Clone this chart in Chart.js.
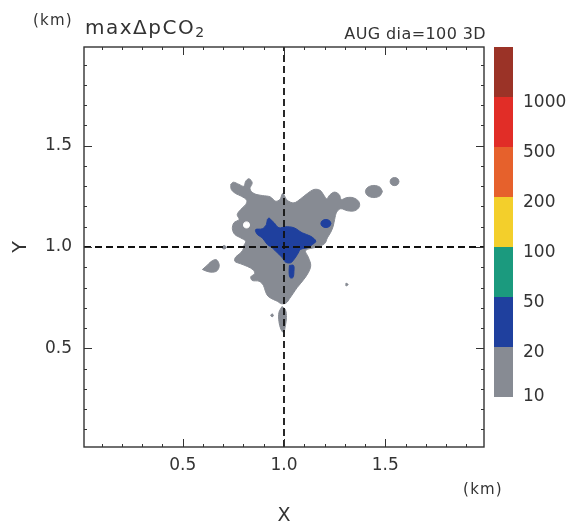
<!DOCTYPE html>
<html>
<head>
<meta charset="utf-8">
<script src="https://cdn.jsdelivr.net/npm/chart.js@4"></script>
<style>
  body { margin: 0; background: #fff; }
</style>
</head>
<body>
<canvas id="contourChart" width="571" height="532"></canvas>
<script>
const axisMin = 0.0125;
const axisMax = 1.9875;
const xTicks = [0.5, 1.0, 1.5];
const yTicks = [0.5, 1.0, 1.5];
const minorTicks = [0.1, 0.2, 0.3, 0.4, 0.5, 0.6, 0.7, 0.8, 0.9, 1.0, 1.1, 1.2, 1.3, 1.4, 1.5, 1.6, 1.7, 1.8, 1.9];
const crossX = 1.0;
const crossY = 1.0;

const levels = [10, 20, 50, 100, 200, 500, 1000];
const levelColors = ['#878b93', '#1f409e', '#1b9a7e', '#f3cf2b', '#e6612c', '#e12d27', '#9b3327'];

// maxΔpCO2 >= 10 (gray band)
const grayMain = [
  [0.737, 1.309], [0.750, 1.320], [0.778, 1.309], [0.802, 1.300], [0.811, 1.325], [0.827, 1.337],
  [0.843, 1.317], [0.832, 1.287], [0.852, 1.264], [0.893, 1.254], [0.931, 1.248], [0.959, 1.226],
  [0.980, 1.235], [0.994, 1.264], [1.016, 1.231], [1.049, 1.218], [1.082, 1.238], [1.115, 1.264],
  [1.148, 1.284], [1.178, 1.280], [1.198, 1.254], [1.211, 1.238], [1.227, 1.258], [1.250, 1.271],
  [1.273, 1.258], [1.283, 1.235], [1.310, 1.244], [1.342, 1.243], [1.369, 1.225], [1.372, 1.199],
  [1.349, 1.179], [1.313, 1.179], [1.280, 1.189], [1.260, 1.172], [1.250, 1.136], [1.243, 1.103],
  [1.231, 1.073], [1.214, 1.045], [1.201, 1.017], [1.163, 1.000], [1.107, 0.983], [1.120, 0.950],
  [1.132, 0.910], [1.120, 0.873], [1.094, 0.835], [1.066, 0.801], [1.044, 0.769], [1.028, 0.746],
  [1.011, 0.724], [0.987, 0.720], [0.967, 0.732], [0.947, 0.741], [0.921, 0.757], [0.908, 0.782],
  [0.898, 0.811], [0.877, 0.831], [0.843, 0.835], [0.836, 0.853], [0.855, 0.868], [0.848, 0.887],
  [0.819, 0.904], [0.786, 0.917], [0.757, 0.930], [0.761, 0.950], [0.786, 0.971], [0.802, 0.996],
  [0.802, 1.007], [0.811, 1.029], [0.786, 1.045], [0.757, 1.062], [0.745, 1.090], [0.753, 1.120],
  [0.778, 1.136], [0.769, 1.160], [0.786, 1.185], [0.811, 1.210], [0.816, 1.231], [0.789, 1.251],
  [0.761, 1.264], [0.740, 1.284]
];
const grayLeft = [[0.597, 0.889], [0.620, 0.909], [0.640, 0.928], [0.663, 0.938], [0.677, 0.923], [0.679, 0.899], [0.664, 0.879], [0.630, 0.877]];
const grayDash = [[0.692, 0.998], [0.704, 1.008], [0.716, 0.998], [0.704, 0.990]];
const grayTail = [[0.990, 0.706], [1.007, 0.691], [1.012, 0.652], [1.007, 0.612], [0.998, 0.578], [0.985, 0.593], [0.975, 0.632], [0.975, 0.677]];
const grayDot = [[0.934, 0.662], [0.941, 0.670], [0.948, 0.662], [0.941, 0.655]];
const grayIsland = [[1.486, 1.274], [1.474, 1.295], [1.444, 1.304], [1.414, 1.295], [1.402, 1.274], [1.414, 1.253], [1.444, 1.244], [1.474, 1.253]];
const grayIslet = [[1.568, 1.323], [1.562, 1.337], [1.546, 1.343], [1.530, 1.337], [1.524, 1.323], [1.530, 1.309], [1.546, 1.303], [1.562, 1.309]];
const grayTri = [[1.306, 0.822], [1.317, 0.815], [1.306, 0.808]];

// below 10 inside the gray band
const holeLow = [[0.830, 1.109], [0.826, 1.120], [0.815, 1.124], [0.804, 1.120], [0.800, 1.109], [0.804, 1.098], [0.815, 1.094], [0.826, 1.098]];

// maxΔpCO2 >= 20 (blue band)
const blueMain = [
  [0.926, 1.144], [0.951, 1.120], [0.975, 1.095], [1.008, 1.100], [1.049, 1.095], [1.090, 1.070],
  [1.132, 1.053], [1.157, 1.029], [1.140, 1.012], [1.115, 0.996], [1.082, 0.988], [1.066, 0.963],
  [1.049, 0.938], [1.033, 0.922], [1.008, 0.925], [0.992, 0.947], [0.967, 0.971], [0.942, 0.996],
  [0.918, 1.012], [0.893, 1.045], [0.868, 1.062], [0.860, 1.086], [0.893, 1.090], [0.913, 1.111],
  [0.918, 1.136]
];
const blueDot = [[1.232, 1.116], [1.225, 1.130], [1.207, 1.136], [1.189, 1.130], [1.182, 1.116], [1.189, 1.102], [1.207, 1.096], [1.225, 1.102]];
const blueStrip = [[1.027, 0.909], [1.047, 0.909], [1.049, 0.879], [1.044, 0.849], [1.030, 0.849], [1.025, 0.879]];

const band10 = [grayMain, grayLeft, grayDash, grayTail, grayDot, grayIsland, grayIslet, grayTri];
const band20 = [blueMain, blueDot, blueStrip];

const textColor = '#333';
const fontFamily = 'DejaVu Sans';

function polygon(points, color, order) {
  const pts = points.map(p => ({ x: p[0], y: p[1] }));
  pts.push({ x: points[0][0], y: points[0][1] });
  return {
    data: pts,
    showLine: true,
    fill: 'shape',
    backgroundColor: color,
    borderColor: color,
    borderWidth: 1,
    pointRadius: 0,
    tension: 0.35,
    order: order
  };
}

function crossLine(points) {
  return {
    data: points,
    showLine: true,
    fill: false,
    borderColor: '#111',
    borderWidth: 1.8,
    borderDash: [7, 4],
    pointRadius: 0,
    order: 0
  };
}

const datasets = [];
band10.forEach(p => datasets.push(polygon(p, levelColors[0], 3)));
datasets.push(polygon(holeLow, '#ffffff', 2));
band20.forEach(p => datasets.push(polygon(p, levelColors[1], 1)));
datasets.push(crossLine([{ x: crossX, y: axisMin }, { x: crossX, y: axisMax }]));
datasets.push(crossLine([{ x: axisMin, y: crossY }, { x: axisMax, y: crossY }]));

// frame with inward ticks, titles and colour bar
const decorPlugin = {
  id: 'decor',
  afterDatasetsDraw(chart) {
    const { ctx, chartArea: a, scales: { x, y } } = chart;
    ctx.save();
    ctx.strokeStyle = '#333';
    ctx.lineWidth = 1;
    minorTicks.forEach(v => {
      const len = xTicks.includes(v) ? 8 : 3;
      const px = Math.round(x.getPixelForValue(v)) + 0.5;
      const py = Math.round(y.getPixelForValue(v)) + 0.5;
      ctx.beginPath();
      ctx.moveTo(px, a.bottom); ctx.lineTo(px, a.bottom - len);
      ctx.moveTo(px, a.top); ctx.lineTo(px, a.top + len);
      ctx.moveTo(a.left, py); ctx.lineTo(a.left + len, py);
      ctx.moveTo(a.right, py); ctx.lineTo(a.right - len, py);
      ctx.stroke();
    });
    ctx.lineWidth = 1.4;
    ctx.strokeRect(a.left, a.top, a.right - a.left, a.bottom - a.top);
    ctx.restore();
  },
  afterDraw(chart) {
    const { ctx, chartArea: a } = chart;
    ctx.save();
    ctx.fillStyle = textColor;

    // top-left unit and title
    ctx.letterSpacing = '1.2px';
    ctx.font = '15px ' + fontFamily;
    ctx.textAlign = 'left';
    ctx.textBaseline = 'middle';
    ctx.fillText('(km)', 33, 21);
    ctx.letterSpacing = '1.5px';
    ctx.font = '20px ' + fontFamily;
    ctx.textBaseline = 'alphabetic';
    const t = 'maxΔpCO';
    ctx.fillText(t, 85, 33.5);
    const tw = ctx.measureText(t).width;
    ctx.font = '14px ' + fontFamily;
    ctx.fillText('2', 85 + tw, 37);

    // case label
    ctx.letterSpacing = '0.4px';
    ctx.font = '16px ' + fontFamily;
    ctx.textAlign = 'right';
    ctx.fillText('AUG dia=100 3D', 486, 38.5);

    // axis titles
    ctx.letterSpacing = '1.2px';
    ctx.font = '15px ' + fontFamily;
    ctx.textAlign = 'center';
    ctx.textBaseline = 'middle';
    ctx.fillText('(km)', 483, 490);
    ctx.letterSpacing = '0px';
    ctx.font = '19px ' + fontFamily;
    ctx.fillText('X', (a.left + a.right) / 2, 516);
    ctx.save();
    ctx.translate(21, (a.top + a.bottom) / 2);
    ctx.rotate(-Math.PI / 2);
    ctx.fillText('Y', 0, 0);
    ctx.restore();

    // colour bar
    const barX = a.right + 10;
    const barW = 19;
    const segH = 50;
    const barBottom = a.top + segH * levelColors.length;
    levelColors.forEach((c, i) => {
      ctx.fillStyle = c;
      ctx.fillRect(barX, barBottom - segH * (i + 1), barW, segH);
    });
    ctx.fillStyle = textColor;
    ctx.font = '17px ' + fontFamily;
    ctx.letterSpacing = '0px';
    ctx.textAlign = 'left';
    ctx.textBaseline = 'middle';
    levels.forEach((lv, i) => {
      const yy = i === 0 ? barBottom : barBottom - segH * i + 6;
      ctx.fillText(String(lv), barX + 29, yy);
    });
    ctx.restore();
  }
};

const ctx = document.getElementById('contourChart').getContext('2d');

const contourChart = new Chart(ctx, {
  type: 'scatter',
  data: { datasets: datasets },
  options: {
    responsive: false,
    animation: false,
    layout: {
      padding: { left: 0, right: 87, top: 47, bottom: 0 }
    },
    scales: {
      x: {
        type: 'linear',
        min: axisMin,
        max: axisMax,
        afterBuildTicks: (scale) => {
          scale.ticks = xTicks.map(v => ({ value: v }));
        },
        afterFit: (scale) => {
          scale.height = 85;
        },
        ticks: {
          callback: (v) => v.toFixed(1),
          font: { family: fontFamily, size: 17 },
          color: textColor,
          padding: 8,
          maxRotation: 0,
          autoSkip: false
        },
        grid: { display: false, drawTicks: false },
        border: { display: false }
      },
      y: {
        type: 'linear',
        min: axisMin,
        max: axisMax,
        afterBuildTicks: (scale) => {
          scale.ticks = yTicks.map(v => ({ value: v }));
        },
        afterFit: (scale) => {
          scale.width = 84;
        },
        ticks: {
          callback: (v) => v.toFixed(1),
          font: { family: fontFamily, size: 17 },
          color: textColor,
          padding: 12,
          autoSkip: false
        },
        grid: { display: false, drawTicks: false },
        border: { display: false }
      }
    },
    plugins: {
      legend: { display: false },
      tooltip: { enabled: false }
    }
  },
  plugins: [decorPlugin]
});
</script>
</body>
</html>
